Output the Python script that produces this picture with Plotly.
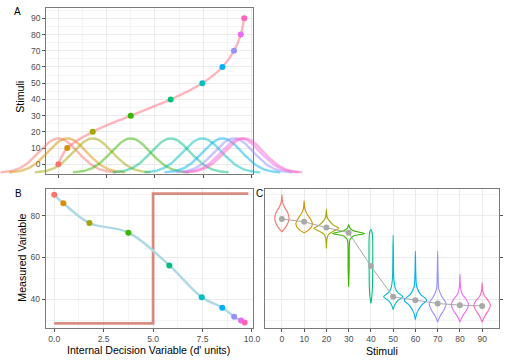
import numpy as np
import plotly.graph_objects as go

# ---------------- data ----------------
stimuli = [0, 10, 20, 30, 40, 50, 60, 70, 80, 90]
dprime = [0, 0.46, 1.78, 3.75, 5.82, 7.46, 8.5, 9.1, 9.45, 9.63]
measured = [90, 86, 76.5, 71.9, 56.2, 41, 36, 31.7, 29.8, 28.9]
violin_means = [78.4, 77.1, 74.3, 71.9, 55.9, 41.2, 39.6, 38.0, 37.2, 36.8]
colors = ["#F8766D", "#D89000", "#A3A500", "#39B600", "#00BF7D",
          "#00BFC4", "#00B0F6", "#9590FF", "#E76BF3", "#FF62BC"]
gauss_colors = ["rgba(248,118,109,0.5)", "rgba(216,144,0,0.5)", "rgba(163,165,0,0.5)",
                "rgba(57,182,0,0.5)", "rgba(0,191,125,0.5)", "rgba(0,191,196,0.5)",
                "rgba(0,176,246,0.5)", "rgba(149,144,255,0.5)", "rgba(231,107,243,0.5)",
                "rgba(255,98,188,0.5)"]
step_x = [0, 5, 5, 9.82]
step_y = [28.5, 28.5, 90.6, 90.6]
gauss_sd = 1.0
gauss_base = -5.2
gauss_height = 21.2

violin_y = [
    [90.1, 86.5, 84, 81.5, 78.7, 76.5, 74.2, 72.3],
    [87.1, 83.5, 81, 78.5, 76.3, 74.5, 73, 71.8],
    [83.1, 79.5, 77.5, 75.5, 74.0, 72.5, 71, 69, 64.3],
    [75.8, 74.2, 72.8, 71.5, 70.3, 68.5, 65, 55, 46],
    [73.4, 72.2, 69, 62, 54, 46, 41, 38],
    [70.7, 60, 50, 45.5, 43.3, 41.2, 39.5, 37.5, 35.1],
    [63, 52, 46, 42.5, 39.6, 37, 33.5, 30.2],
    [63, 52, 45, 41.5, 38, 35, 32, 29.1],
    [52, 46, 42.5, 40, 37.5, 35, 32, 29.1],
    [48, 44, 41.5, 39.3, 37.2, 35, 32, 29.1],
]
violin_w = [
    [0, 0.3, 1.2, 2.6, 3.2, 2.7, 1.5, 0],
    [0, 0.3, 1.2, 2.8, 3.7, 3.2, 1.8, 0],
    [0, 0.3, 1.3, 3.2, 5.6, 3.0, 0.9, 0.3, 0],
    [0, 0.5, 2.2, 7.2, 2.2, 0.6, 0.3, 0.25, 0],
    [0, 0.5, 0.8, 0.85, 0.8, 0.7, 0.4, 0],
    [0, 0.15, 0.3, 0.9, 2.0, 4.3, 2.2, 0.8, 0],
    [0, 0.2, 0.6, 2.2, 5.0, 2.6, 0.7, 0],
    [0, 0.2, 0.5, 1.8, 3.8, 2.9, 1.1, 0],
    [0, 0.25, 1.0, 2.8, 3.9, 3.1, 1.2, 0],
    [0, 0.25, 1.1, 2.8, 3.7, 3.0, 1.2, 0],
]

# ---------------- layout helpers ----------------
W, H = 519, 360
FONT = "Liberation Sans, Arial, sans-serif"
TICKFONT = dict(family=FONT, size=8.5, color="#4D4D4D")


def dx(a, b):
    return [a / W, b / W]


def dy(top, bottom):
    return [1 - bottom / H, 1 - top / H]


fig = go.Figure()

# Panel B (x / y)
fig.add_trace(go.Scatter(x=step_x, y=step_y, mode="lines",
                         line=dict(color="rgba(205,95,80,0.72)", width=2.8),
                         xaxis="x", yaxis="y", hoverinfo="skip"))
fig.add_trace(go.Scatter(x=dprime, y=measured, mode="lines",
                         line=dict(color="#ADD8E6", width=2.4, shape="spline", smoothing=1.1),
                         xaxis="x", yaxis="y", hoverinfo="skip"))
fig.add_trace(go.Scatter(x=dprime, y=measured, mode="markers",
                         marker=dict(color=colors, size=6),
                         xaxis="x", yaxis="y", cliponaxis=False))

# Panel A axes frame (x2 / y2) - empty trace to create the subplot
fig.add_trace(go.Scatter(x=[None], y=[None], xaxis="x2", yaxis="y2", showlegend=False))

# Panel C (x3 / y3)
for s, c, ys, ws in zip(stimuli, colors, violin_y, violin_w):
    xs = [s + w for w in ws] + [s - w for w in reversed(ws)]
    yy = list(ys) + list(reversed(ys))
    fig.add_trace(go.Scatter(x=xs, y=yy, mode="lines",
                             line=dict(color=c, width=1.1, shape="spline", smoothing=0.8),
                             xaxis="x3", yaxis="y3", hoverinfo="skip"))
fig.add_trace(go.Scatter(x=stimuli, y=violin_means, mode="lines+markers",
                         line=dict(color="#A9A9A9", width=1),
                         marker=dict(color="#A9A9A9", size=6),
                         xaxis="x3", yaxis="y3"))

# Panel A content on a wider overlay subplot (x4 / y4) so gaussians can spill out
for m, c in zip(dprime, gauss_colors):
    gx = np.linspace(m - 3 * gauss_sd, m + 3 * gauss_sd, 121)
    gy = gauss_base + gauss_height * np.exp(-0.5 * ((gx - m) / gauss_sd) ** 2)
    fig.add_trace(go.Scatter(x=gx, y=gy, mode="lines",
                             line=dict(color=c, width=2.4),
                             xaxis="x4", yaxis="y4", hoverinfo="skip"))
fig.add_trace(go.Scatter(x=dprime, y=stimuli, mode="lines",
                         line=dict(color="rgba(255,120,135,0.55)", width=2.4,
                                   shape="spline", smoothing=1.0),
                         xaxis="x4", yaxis="y4", hoverinfo="skip"))
fig.add_trace(go.Scatter(x=dprime, y=stimuli, mode="markers",
                         marker=dict(color=colors, size=6),
                         xaxis="x4", yaxis="y4", cliponaxis=False))

grid = "#EBEBEB"
minor_grid = "#F4F4F4"
common = dict(showline=True, linecolor="#7A7A7A", linewidth=1, mirror=True,
              ticks="outside", ticklen=3, tickcolor="#555555", tickwidth=1,
              showgrid=True, gridcolor=grid, gridwidth=1, zeroline=False,
              tickfont=TICKFONT, fixedrange=True)

fig.update_layout(
    width=W, height=H,
    margin=dict(l=0, r=0, t=0, b=0),
    paper_bgcolor="white", plot_bgcolor="rgba(0,0,0,0)",
    showlegend=False,
    font=dict(family=FONT),
    # Panel B
    xaxis=dict(domain=dx(46.3, 256.7), range=[-0.438, 10.04], anchor="y",
               tickvals=[0, 2.5, 5, 7.5, 10], ticktext=["0.0", "2.5", "5.0", "7.5", "10.0"],
               minor=dict(tickvals=[1.25, 3.75, 6.25, 8.75], showgrid=True,
                          gridcolor=minor_grid, gridwidth=1, ticks=""),
               **common),
    yaxis=dict(domain=dy(189.3, 327.7), range=[26.41, 92.63], anchor="x",
               tickvals=[40, 60, 80],
               minor=dict(tickvals=[30, 50, 70, 90], showgrid=True,
                          gridcolor=minor_grid, gridwidth=1, ticks=""),
               **common),
    # Panel A frame
    xaxis2=dict(domain=dx(47, 257.3), range=[-0.628, 10.10], anchor="y2",
                tickvals=[0, 2.5, 5, 7.5, 10], showticklabels=False,
                minor=dict(tickvals=[1.25, 3.75, 6.25, 8.75], showgrid=True,
                           gridcolor=minor_grid, gridwidth=1, ticks=""),
                **common),
    yaxis2=dict(domain=dy(8.3, 174), range=[-5.98, 96.17], anchor="x2",
                tickvals=stimuli,
                minor=dict(tickvals=[5, 15, 25, 35, 45, 55, 65, 75, 85, 95], showgrid=True,
                           gridcolor=minor_grid, gridwidth=1, ticks=""),
                **common),
    # Panel C
    xaxis3=dict(domain=dx(269, 506.7), range=[-7.65, 97.52], anchor="y3",
                tickvals=stimuli, **common),
    yaxis3=dict(domain=dy(189.3, 327.7), range=[26.41, 92.63], anchor="x3",
                side="right", tickvals=[40, 60, 80], showticklabels=False,
                minor=dict(tickvals=[30, 50, 70, 90], showgrid=True,
                           gridcolor=minor_grid, gridwidth=1, ticks=""),
                **common),
    # Overlay for panel A marks (same scale as panel A, wider box)
    xaxis4=dict(domain=dx(0, 330), range=[(0 - 59.3) / 19.6, (330 - 59.3) / 19.6],
                anchor="y4", visible=False, fixedrange=True),
    yaxis4=dict(domain=dy(8.3, 180), range=[(164.3 - 180) / 1.6222, 96.17],
                anchor="x4", visible=False, fixedrange=True),
)


def ann(text, px, py, size=10.6, angle=0, color="black"):
    fig.add_annotation(text=text, x=px / W, y=1 - py / H, xref="paper", yref="paper",
                       showarrow=False, textangle=angle, xanchor="center", yanchor="middle",
                       font=dict(family=FONT, size=size, color=color))


ann("Stimuli", 20, 97, angle=-90)
ann("Measured Variable", 22, 258, angle=-90)
ann("Internal Decision Variable (d' units)", 151, 350)
ann("Stimuli", 388, 351)
ann("A", 18, 12, size=10)
ann("B", 19, 193, size=10)
ann("C", 263.5, 193, size=10)

fig.write_html("out.html", config={"displayModeBar": False},
               post_script="document.body.style.margin='0';")
